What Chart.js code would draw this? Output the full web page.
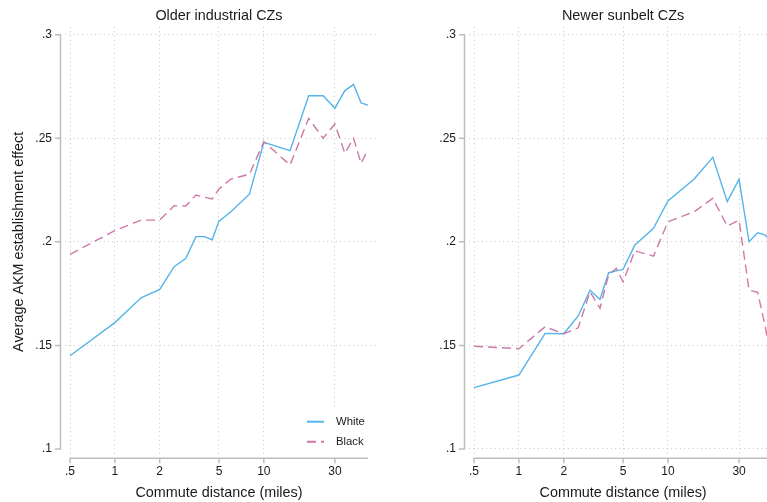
<!DOCTYPE html>
<html>
<head>
<meta charset="utf-8">
<script src="https://cdn.jsdelivr.net/npm/chart.js@4/dist/chart.umd.min.js"></script>
<style>
html, body { margin:0; padding:0; background:#fff; overflow:hidden; }
#wrap { position:relative; width:767px; height:502px; }
canvas { position:absolute; top:0; }
#c_left { left:0; }
#c_right { left:390px; }
</style>
</head>
<body>
<div id="wrap">
<canvas id="c_left" width="390" height="502"></canvas>
<canvas id="c_right" width="377" height="502"></canvas>
</div>
<script>
// commute distance bins (miles), same for both panels
var xMiles = [0.5, 1, 1.5, 2, 2.5, 3, 3.5, 4, 4.5, 5, 6, 8, 10, 15, 20, 25, 30, 35, 40, 45, 50];

// older industrial CZs
var olderWhite = [0.145, 0.161, 0.173, 0.177, 0.188, 0.192, 0.2025, 0.2025, 0.201, 0.210, 0.2145, 0.223,
                  0.248, 0.244, 0.2705, 0.2705, 0.2645, 0.273, 0.276, 0.267, 0.266];
var olderBlack = [0.194, 0.2054, 0.2105, 0.2105, 0.2174, 0.2173, 0.2226, 0.2215, 0.2207, 0.2255, 0.2303, 0.2326,
                  0.2483, 0.2371, 0.2596, 0.250, 0.2569, 0.2427, 0.250, 0.2379, 0.2446];

// newer sunbelt CZs
var newerWhite = [0.1296, 0.1357, 0.1558, 0.1556, 0.1642, 0.1767, 0.1722, 0.1851, 0.186, 0.1867, 0.1985, 0.2065,
                  0.2197, 0.2303, 0.2408, 0.2194, 0.2302, 0.200, 0.2044, 0.2033, 0.199];
var newerBlack = [0.1496, 0.1484, 0.159, 0.1556, 0.1585, 0.1759, 0.1679, 0.184, 0.1872, 0.1807, 0.1957, 0.1931,
                  0.2097, 0.2145, 0.221, 0.2076, 0.2105, 0.1767, 0.1756, 0.159, 0.14];

var xTickValues = [0.5, 1, 2, 5, 10, 30];
var xTickLabels = ['.5', '1', '2', '5', '10', '30'];
var yTickValues = [0.1, 0.15, 0.2, 0.25, 0.3];
var yTickLabels = ['.1', '.15', '.2', '.25', '.3'];

var seriesNames = ['White', 'Black'];
var panelTitles = ['Older industrial CZs', 'Newer sunbelt CZs'];
var xAxisTitle = 'Commute distance (miles)';
var yAxisTitle = 'Average AKM establishment effect';

var FONT = '"Liberation Sans", Arial, Helvetica, sans-serif';
var TEXT = '#1a1a1a';
var AXIS = '#bdbdbd';
var GRID = '#c6c6c6';
var BLUE = '#56B4E9';
var PINK = '#CC79A7';

var toPoints = function( xs, ys ){
    return xs.map(function(x, i){ return { x: x, y: ys[i] }; });
};

// axis lines, ticks, titles and the legend, drawn the Stata way
var stataDecor = {
    id: 'stataDecor',
    beforeDatasetsDraw: function( chart, args, opts ){
        if( !opts.legend ) return;
        var ctx = chart.ctx, a = chart.chartArea;
        ctx.save();
        ctx.fillStyle = '#fff';
        ctx.fillRect(a.right - 79, a.bottom - 45, 79, 45);
        chart.data.datasets.forEach(function(ds, i){
            var y = a.bottom - 33.3 + i * 20;
            ctx.strokeStyle = ds.borderColor;
            ctx.lineWidth = 2;
            ctx.setLineDash(ds.borderDash || []);
            ctx.beginPath();
            ctx.moveTo(a.right - 70, y);
            ctx.lineTo(a.right - 53, y);
            ctx.stroke();
            ctx.setLineDash([]);
            ctx.fillStyle = TEXT;
            ctx.font = '11.3px ' + FONT;
            ctx.textAlign = 'left';
            ctx.textBaseline = 'middle';
            ctx.fillText(ds.label, a.right - 41, y + 0.5);
        });
        ctx.restore();
    },
    afterDraw: function( chart, args, opts ){
        var ctx = chart.ctx, a = chart.chartArea;
        var xs = chart.scales.x, ys = chart.scales.y;
        var x0 = xs.getPixelForValue(xMiles[0]);
        var x1 = xs.getPixelForValue(xMiles[xMiles.length - 1]);
        var yTop = ys.getPixelForValue(yTickValues[yTickValues.length - 1]);
        var yBot = ys.getPixelForValue(yTickValues[0]);
        ctx.save();
        ctx.strokeStyle = AXIS;
        ctx.lineWidth = 1.5;
        // y axis
        var ax = a.left - 4.5;
        ctx.beginPath();
        ctx.moveTo(ax, yTop);
        ctx.lineTo(ax, yBot);
        yTickValues.forEach(function(v){
            var p = ys.getPixelForValue(v);
            ctx.moveTo(ax + 0.75, p);
            ctx.lineTo(ax - 5.5, p);
        });
        ctx.stroke();
        // x axis
        var ay = a.bottom + 3.3;
        ctx.beginPath();
        ctx.moveTo(x0, ay);
        ctx.lineTo(Math.min(x1, chart.width), ay);
        xTickValues.forEach(function(v){
            var p = xs.getPixelForValue(v);
            ctx.moveTo(p, ay - 0.75);
            ctx.lineTo(p, ay + 5);
        });
        ctx.stroke();

        ctx.fillStyle = TEXT;
        ctx.font = '14.4px ' + FONT;
        ctx.textAlign = 'center';
        ctx.textBaseline = 'alphabetic';
        var cx = (x0 + x1) / 2;
        ctx.fillText(opts.title, cx, 20);
        ctx.fillText(xAxisTitle, cx, chart.height - 5.5);
        if( opts.yTitle ){
            ctx.translate(22.7, (yTop + yBot) / 2);
            ctx.rotate(-Math.PI / 2);
            ctx.fillText(yAxisTitle, 0, 0);
        }
        ctx.restore();
    }
};

var makePanel = function( canvasId, title, white, black, xMax, padLeft, padRight, isLeft ){
    var ctx = document.getElementById(canvasId).getContext('2d');
    return new Chart(ctx, {
        type: 'line',
        data: {
            datasets: [{
                label: seriesNames[0],
                data: toPoints(xMiles, white),
                borderColor: BLUE,
                borderWidth: 1.4,
                pointRadius: 0,
                tension: 0,
                order: 2
            }, {
                label: seriesNames[1],
                data: toPoints(xMiles, black),
                borderColor: PINK,
                borderWidth: 1.4,
                borderDash: [9, 5],
                pointRadius: 0,
                tension: 0,
                order: 1
            }]
        },
        options: {
            responsive: false,
            animation: false,
            layout: { padding: { left: padLeft, right: padRight, top: 27, bottom: 7 } },
            plugins: {
                legend: { display: false },
                tooltip: { enabled: false },
                stataDecor: { title: title, yTitle: isLeft, legend: isLeft }
            },
            scales: {
                x: {
                    type: 'logarithmic',
                    min: 0.4627,
                    max: xMax,
                    afterBuildTicks: function(scale){
                        scale.ticks = xTickValues.map(function(v){ return { value: v }; });
                    },
                    afterFit: function(scale){ scale.height = 40; },
                    ticks: {
                        autoSkip: false,
                        maxRotation: 0,
                        padding: 9,
                        color: TEXT,
                        font: { family: FONT, size: 12 },
                        callback: function(v){ return xTickLabels[xTickValues.indexOf(v)]; }
                    },
                    grid: { color: GRID, lineWidth: 1, drawTicks: false },
                    border: { display: false, dash: [1, 3.3] }
                },
                y: {
                    min: 0.0971,
                    max: 0.3037,
                    afterBuildTicks: function(scale){
                        scale.ticks = yTickValues.map(function(v){ return { value: v }; });
                    },
                    afterFit: function(scale){ scale.width = 55; },
                    ticks: {
                        padding: 13,
                        color: TEXT,
                        font: { family: FONT, size: 12 },
                        callback: function(v){ return yTickLabels[yTickValues.indexOf(v)]; }
                    },
                    grid: {
                        // the left panel has no line at .1
                        color: function(c){
                            if( isLeft && c.tick && c.tick.value === yTickValues[0] ) return 'rgba(0,0,0,0)';
                            return GRID;
                        },
                        lineWidth: 1,
                        drawTicks: false
                    },
                    border: { display: false, dash: [1, 3.3] }
                }
            }
        },
        plugins: [stataDecor]
    });
};

makePanel('c_left', panelTitles[0], olderWhite, olderBlack, 57.5, 10, 13, true);
makePanel('c_right', panelTitles[1], newerWhite, newerBlack, 46.2, 24, 0, false);
</script>
</body>
</html>
